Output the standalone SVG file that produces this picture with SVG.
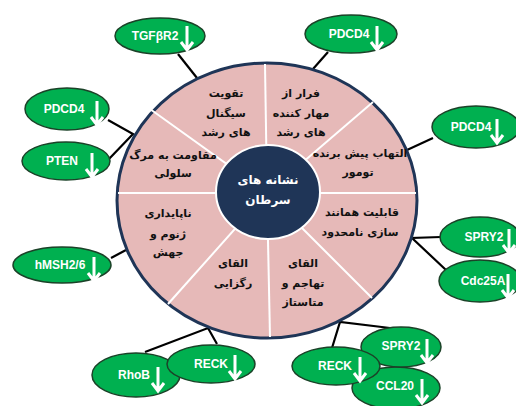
<svg xmlns="http://www.w3.org/2000/svg" xmlns:xlink="http://www.w3.org/1999/xlink" width="516" height="406" viewBox="0 0 516 406">
<style>
.conn{stroke:#000;stroke-width:2.2;fill:none}
.gn{fill:#00B050;stroke:#1B4228;stroke-width:1.5}
.gt{font-family:"Liberation Sans",Arial,sans-serif;font-weight:bold;font-size:12px;fill:#fff;text-anchor:middle}
.st{font-family:"DejaVu Sans",sans-serif;font-weight:bold;font-size:11px;fill:#111;text-anchor:middle}
.ct{font-family:"DejaVu Sans",sans-serif;font-weight:bold;font-size:12px;fill:#fff;text-anchor:middle}
.div{stroke:#fff;stroke-width:2}
</style>
<defs>
<path id="arr" d="M0,-11 V13 M-6,5 L0,13 L6,5" fill="none" stroke="#fff" stroke-width="3"/>
</defs>
<rect width="516" height="406" fill="#fff"/>
<g id="connectors">
<line class="conn" x1="178" y1="54" x2="197" y2="78"/>
<line class="conn" x1="328" y1="52" x2="313" y2="69"/>
<polyline class="conn" points="108,120 133,134 108,160"/>
<line class="conn" x1="407" y1="150" x2="433" y2="138"/>
<polyline class="conn" points="441,237 412,238 446,270"/>
<line class="conn" x1="111" y1="258" x2="126" y2="250"/>
<polyline class="conn" points="145,352 208,328 217,344"/>
<polyline class="conn" points="332,348 340,322 390,328"/>
</g>
<g id="hallmarks">
<ellipse cx="267" cy="200.5" rx="150" ry="137.5" fill="#E6B9B8" stroke="#1F3557" stroke-width="3"/>
<line class="div" x1="267" y1="193" x2="265" y2="64"/>
<line class="div" x1="267" y1="193" x2="270" y2="337"/>
<line class="div" x1="267" y1="193" x2="118" y2="193"/>
<line class="div" x1="267" y1="193" x2="416" y2="193"/>
<line class="div" x1="267" y1="193" x2="150" y2="109"/>
<line class="div" x1="267" y1="193" x2="373" y2="102"/>
<line class="div" x1="267" y1="193" x2="372" y2="298"/>
<line class="div" x1="267" y1="193" x2="168" y2="304"/>
<text class="st" x="226" y="97">تقویت</text>
<text class="st" x="226" y="117">سیگنال</text>
<text class="st" x="226" y="136">های رشد</text>
<text class="st" x="301" y="97">فرار از</text>
<text class="st" x="301" y="117">مهار کننده</text>
<text class="st" x="301" y="136">های رشد</text>
<text class="st" x="360" y="157">التهاب پیش برنده</text>
<text class="st" x="358" y="176">تومور</text>
<text class="st" x="362" y="216">قابلیت همانند</text>
<text class="st" x="360" y="236">سازی نامحدود</text>
<text class="st" x="303" y="267">القای</text>
<text class="st" x="303" y="287">تهاجم و</text>
<text class="st" x="303" y="306">متاستاز</text>
<text class="st" x="233" y="267">القای</text>
<text class="st" x="233" y="287">رگزایی</text>
<text class="st" x="168" y="217">ناپایداری</text>
<text class="st" x="168" y="238">ژنوم و</text>
<text class="st" x="168" y="256">جهش</text>
<text class="st" x="173" y="159">مقاومت به مرگ</text>
<text class="st" x="173" y="177">سلولی</text>
</g>
<g id="center">
<ellipse cx="268" cy="192" rx="52" ry="47" fill="#1F3557" stroke="#fff" stroke-width="2"/>
<text class="ct" x="268" y="184">نشانه های</text>
<text class="ct" x="268" y="204">سرطان</text>
</g>
<g id="n-tgfbr2"><ellipse class="gn" cx="160" cy="36" rx="45" ry="18"/><text class="gt" x="155" y="40">TGFβR2</text><use href="#arr" x="187" y="37"/></g>
<g id="n-pdcd4-top"><ellipse class="gn" cx="351" cy="34" rx="46" ry="19"/><text class="gt" x="349" y="38">PDCD4</text><use href="#arr" x="377" y="37"/></g>
<g id="n-pdcd4-left"><ellipse class="gn" cx="67" cy="109" rx="42" ry="21"/><text class="gt" x="64" y="113">PDCD4</text><use href="#arr" x="97" y="112"/></g>
<g id="n-pten"><ellipse class="gn" cx="66" cy="161" rx="44" ry="19"/><text class="gt" x="62" y="165">PTEN</text><use href="#arr" x="92" y="164"/></g>
<g id="n-pdcd4-right"><ellipse class="gn" cx="476" cy="127" rx="44" ry="21"/><text class="gt" x="471" y="131">PDCD4</text><use href="#arr" x="497" y="130"/></g>
<g id="n-spry2-right"><ellipse class="gn" cx="480" cy="237" rx="40" ry="20"/><text class="gt" x="484" y="241">SPRY2</text><use href="#arr" x="509" y="240"/></g>
<g id="n-cdc25a"><ellipse class="gn" cx="480" cy="281" rx="41" ry="21"/><text class="gt" x="483" y="285">Cdc25A</text><use href="#arr" x="508" y="285"/></g>
<g id="n-hmsh"><ellipse class="gn" cx="62" cy="265" rx="49" ry="18"/><text class="gt" x="60" y="269">hMSH2/6</text><use href="#arr" x="94" y="268"/></g>
<g id="n-rhob"><ellipse class="gn" cx="136" cy="375" rx="44" ry="22"/><text class="gt" x="134" y="379">RhoB</text><use href="#arr" x="158" y="378"/></g>
<g id="n-reck-left"><ellipse class="gn" cx="211" cy="364" rx="44" ry="19"/><text class="gt" x="211" y="368">RECK</text><use href="#arr" x="235" y="366"/></g>
<g id="n-ccl20"><ellipse class="gn" cx="396" cy="388" rx="44" ry="21"/><text class="gt" x="395" y="390">CCL20</text><use href="#arr" x="422" y="390"/></g>
<g id="n-spry2-bottom"><ellipse class="gn" cx="401" cy="347" rx="40" ry="20"/><text class="gt" x="401" y="350">SPRY2</text><use href="#arr" x="427" y="350"/></g>
<g id="n-reck-bottom"><ellipse class="gn" cx="336" cy="366" rx="44" ry="19"/><text class="gt" x="335" y="370">RECK</text><use href="#arr" x="360" y="368"/></g>
</svg>
